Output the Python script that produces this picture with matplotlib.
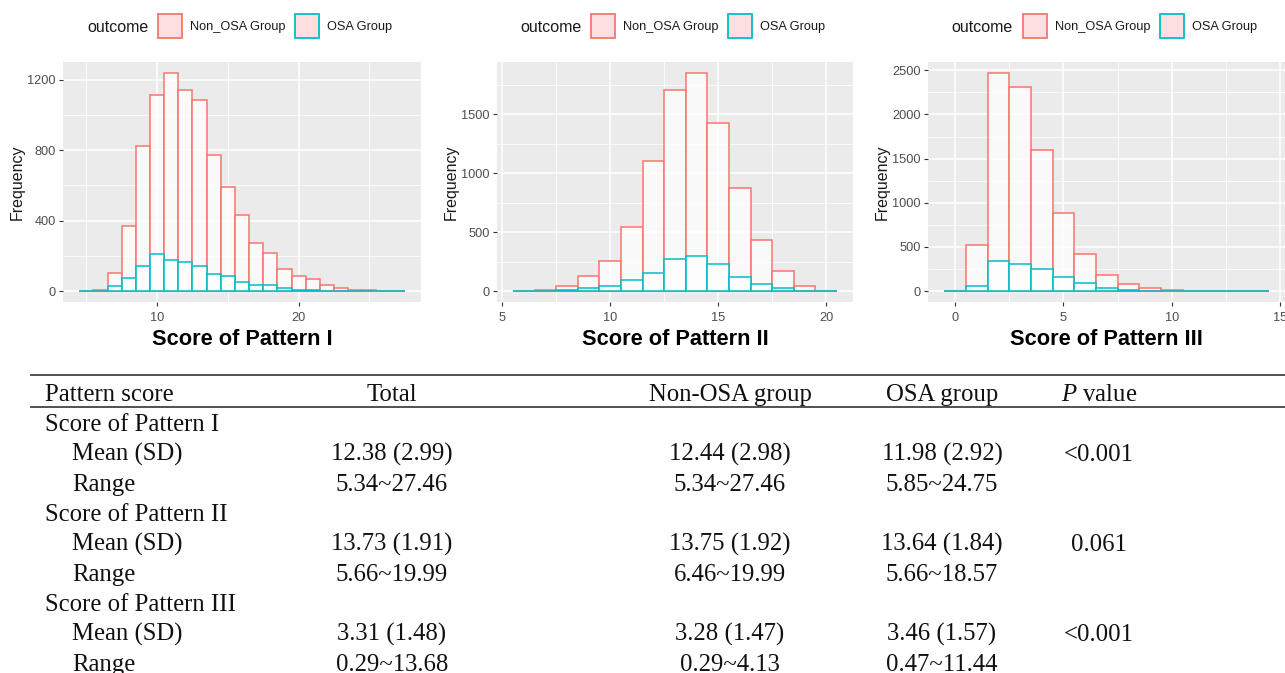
import matplotlib
matplotlib.use("Agg")
import matplotlib.pyplot as plt
from matplotlib.patches import Patch
from matplotlib.lines import Line2D

# ---------------- data ----------------
p1_centers = list(range(5, 28))
p1_non = [1, 5, 100, 370, 821, 1115, 1238, 1139, 1082, 770, 588, 432, 275, 218,
          127, 83, 70, 32, 19, 8, 7, 1, 1]
p1_osa = [0, 3, 28, 72, 144, 208, 176, 163, 144, 95, 83, 51, 32, 32,
          15, 8, 6, 2, 1, 1, 1, 0, 0]

p2_centers = list(range(6, 21))
p2_non = [1, 11, 42, 130, 254, 542, 1102, 1709, 1850, 1427, 870, 432, 169, 42, 1]
p2_osa = [1, 1, 8, 25, 42, 96, 150, 274, 294, 226, 116, 56, 23, 1, 0]

p3_centers = list(range(0, 15))
p3_non = [1, 522, 2470, 2307, 1592, 889, 424, 178, 76, 30, 15, 0, 0, 0, 1]
p3_osa = [0, 60, 340, 303, 253, 155, 87, 34, 15, 6, 1, 1, 0, 0, 0]

group_labels = ["Non_OSA Group", "OSA Group"]
legend_title = "outcome"
x_titles = ["Score of Pattern I", "Score of Pattern II", "Score of Pattern III"]

p1_xticks = [10, 20]
p2_xticks = [5, 10, 15, 20]
p3_xticks = [0, 5, 10, 15]
p1_yticks = [0, 400, 800, 1200]
p2_yticks = [0, 500, 1000, 1500]
p3_yticks = [0, 500, 1000, 1500, 2000, 2500]

# table
col_headers = ["Pattern score", "Total", "Non-OSA group", "OSA group", r"$\mathit{P}$ value"]
pattern_rows = ["Score of Pattern I", "Score of Pattern II", "Score of Pattern III"]
sub_rows = ["Mean (SD)", "Range"]
total_mean = ["12.38 (2.99)", "13.73 (1.91)", "3.31 (1.48)"]
total_range = ["5.34~27.46", "5.66~19.99", "0.29~13.68"]
non_mean = ["12.44 (2.98)", "13.75 (1.92)", "3.28 (1.47)"]
non_range = ["5.34~27.46", "6.46~19.99", "0.29~4.13"]
osa_mean = ["11.98 (2.92)", "13.64 (1.84)", "3.46 (1.57)"]
osa_range = ["5.85~24.75", "5.66~18.57", "0.47~11.44"]
p_values = ["<0.001", "0.061", "<0.001"]

# ---------------- style ----------------
RED = "#F8766D"
CYAN = "#00BFC4"
PINK = "#FDDFE2"
BG = "#EBEBEB"
plt.rcParams["font.family"] = ["Liberation Sans", "DejaVu Sans"]
plt.rcParams["mathtext.fontset"] = "custom"
plt.rcParams["mathtext.it"] = "Liberation Serif:italic"
plt.rcParams["mathtext.rm"] = "Liberation Serif"

W, H = 1285, 673
fig = plt.figure(figsize=(W / 100, H / 100), dpi=100)


def fx(px):
    return px / W


def fy(py):
    return 1 - py / H


def minor_between(ticks, lo, hi):
    step = ticks[1] - ticks[0]
    cands = [ticks[0] - step / 2] + [t + step / 2 for t in ticks]
    return [c for c in cands if lo <= c <= hi]


panels = [
    (p1_centers, p1_non, p1_osa, x_titles[0], p1_xticks, p1_yticks, 63, 421),
    (p2_centers, p2_non, p2_osa, x_titles[1], p2_xticks, p2_yticks, 497, 853),
    (p3_centers, p3_non, p3_osa, x_titles[2], p3_xticks, p3_yticks, 928, 1285.5),
]
TOP, BOT = 62, 302

for centers, non, osa, xt, xticks, yticks, left, right in panels:
    ax = fig.add_axes([fx(left), fy(BOT), (right - left) / W, (BOT - TOP) / H])
    ax.set_facecolor(BG)
    for s in ax.spines.values():
        s.set_visible(False)
    ax.bar(centers, non, width=1, facecolor=(1, 1, 1, 0.75), edgecolor=RED,
           linewidth=1.1, zorder=3)
    ax.bar(centers, osa, width=1, facecolor=(1, 1, 1, 0.75), edgecolor=CYAN,
           linewidth=1.1, zorder=4)
    lo, hi = min(centers) - 0.5, max(centers) + 0.5
    span = hi - lo
    ax.set_xlim(lo - 0.05 * span, hi + 0.05 * span)
    ymax = max(max(non), max(osa))
    ax.set_ylim(-0.05 * ymax, 1.05 * ymax)
    x0, x1 = ax.get_xlim()
    y0, y1 = ax.get_ylim()
    ax.set_xticks(xticks)
    ax.set_yticks(yticks)
    ax.set_xticks(minor_between(xticks, x0, x1), minor=True)
    ax.set_yticks(minor_between(yticks, y0, y1), minor=True)
    ax.set_xlim(x0, x1)
    ax.set_ylim(y0, y1)
    ax.grid(which="major", color="white", linewidth=1.1)
    ax.grid(which="minor", color="white", linewidth=0.55)
    ax.set_axisbelow(True)
    ax.tick_params(which="major", length=2.9, width=0.8, color="#333333",
                   labelcolor="#4D4D4D", labelsize=9.2, pad=2.3)
    ax.tick_params(axis="x", which="major", pad=4.6)
    ax.tick_params(which="minor", length=0)
    ax.set_xlabel(xt, fontsize=15.7, fontweight="bold", color="black", labelpad=3.5)
    ax.set_ylabel("Frequency", fontsize=11.5, color="#1A1A1A", labelpad=2)

    # legend (top, horizontal)
    cx = (left + right) / 2
    fig.text(fx(cx - 155), fy(27), legend_title, fontsize=11.5, color="#1A1A1A",
             ha="left", va="center")
    handles = [Patch(facecolor=PINK, edgecolor=RED, linewidth=1.3, label=group_labels[0]),
               Patch(facecolor=PINK, edgecolor=CYAN, linewidth=1.3, label=group_labels[1])]
    leg = ax.legend(handles=handles, ncol=2, loc="center left",
                    bbox_to_anchor=(fx(cx - 84), fy(26)), bbox_transform=fig.transFigure,
                    frameon=False, fontsize=9.2, handlelength=1.88, handleheight=2.52,
                    handletextpad=0.62, columnspacing=0.78, borderpad=0, borderaxespad=0)
    for t in leg.get_texts():
        t.set_color("#1A1A1A")

# ---------------- table ----------------
SER = ["Liberation Serif", "DejaVu Serif"]
FS = 17.8
col_x = [45, 392, 730, 942, 1099]
line_kw = dict(color="#333333", linewidth=1.2, transform=fig.transFigure)
fig.add_artist(Line2D([fx(31), 1], [fy(375), fy(375)], **line_kw))
fig.add_artist(Line2D([fx(31), 1], [fy(407), fy(407)], **line_kw))

base = 401
step = 30.0
fig.text(fx(col_x[0]), fy(base), col_headers[0], family=SER, fontsize=FS,
         ha="left", va="baseline", color="#111111")
for j in range(1, 5):
    fig.text(fx(col_x[j]), fy(base), col_headers[j], family=SER, fontsize=FS,
             ha="center", va="baseline", color="#111111")

row = 1
for i, name in enumerate(pattern_rows):
    y = base + row * step
    fig.text(fx(45), fy(y), name, family=SER, fontsize=FS, ha="left",
             va="baseline", color="#111111")
    row += 1
    vals_mean = [total_mean[i], non_mean[i], osa_mean[i], p_values[i]]
    vals_range = [total_range[i], non_range[i], osa_range[i], ""]
    for sub, vals in zip(sub_rows, [vals_mean, vals_range]):
        y = base + row * step
        fig.text(fx(72), fy(y), sub, family=SER, fontsize=FS, ha="left",
                 va="baseline", color="#111111")
        for j, v in enumerate(vals):
            if v:
                fig.text(fx(col_x[j + 1]), fy(y), v, family=SER, fontsize=FS,
                         ha="center", va="baseline", color="#111111")
        row += 1

fig.savefig("out.png", dpi=100, facecolor="white")
